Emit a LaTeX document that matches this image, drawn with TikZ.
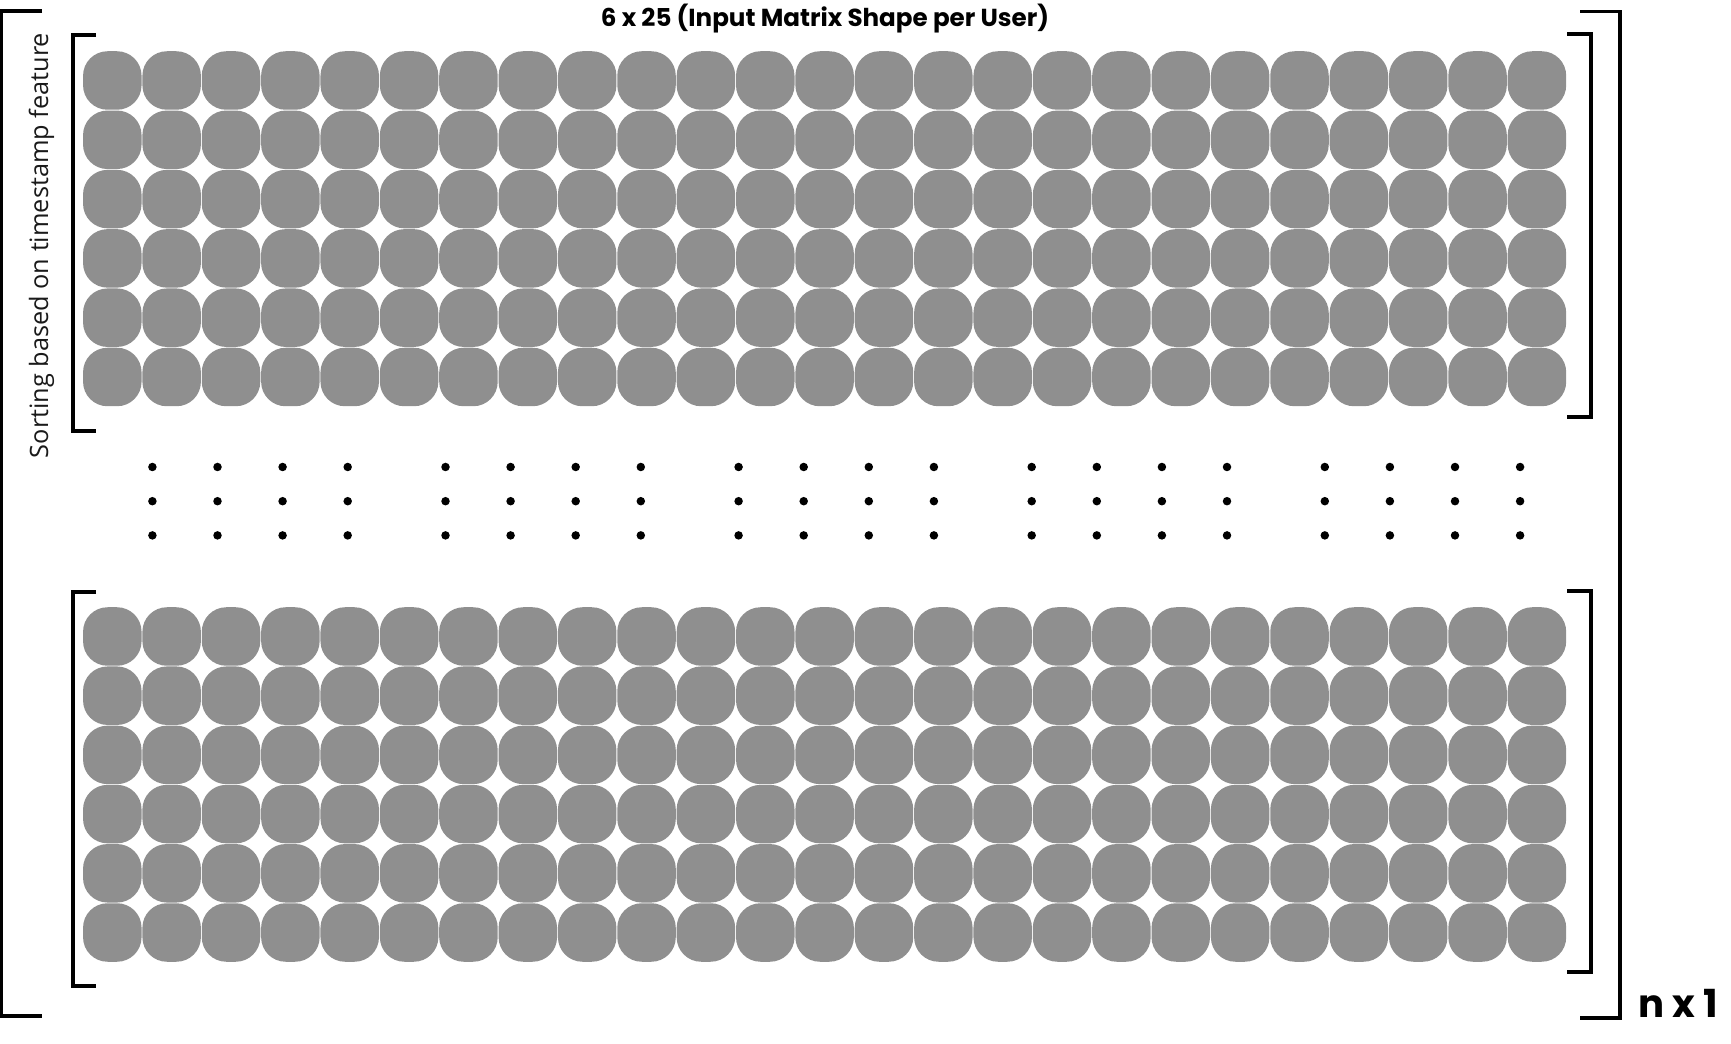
\documentclass[tikz,border=0pt]{standalone}
\usepackage{fontspec}
\setmainfont{Open Sans}
\newfontfamily\headfont{Poppins}
\usepackage{tikz}
\usetikzlibrary{positioning}
\usepackage{xcolor}
\definecolor{cellgray}{HTML}{8F8F8F}
\definecolor{ink}{HTML}{000000}
\definecolor{sidetext}{HTML}{1A1A1A}
\tikzset{
  cell/.style={fill=cellgray,rounded corners=4.9mm,inner sep=0pt,
               minimum size=11.7mm},
  bracket/.style={draw=ink,line width=0.62mm,line cap=butt,line join=miter},
  dotpt/.style={circle,fill=ink,inner sep=0pt,minimum size=1.7mm},
  headtext/.style={font=\headfont\bfseries\fontsize{14}{16}\selectfont,text=ink},
  sizetext/.style={font=\headfont\bfseries\fontsize{22}{26}\selectfont,text=ink},
  sidelabel/.style={font=\fontsize{14.4}{17}\selectfont,text=sidetext}
}

\begin{document}
\begin{tikzpicture}[x=0.2mm,y=-0.2mm]
  \useasboundingbox (0,0) rectangle (1731,1044);

  % Top user matrix
  \begin{scope}[yshift=0cm]
    \foreach \r in {0,...,5}
      \foreach \c in {0,...,24}
        \node[cell] (t-\r-\c) at (112.3+59.36*\c,80.5+59.3*\r) {};
    \draw[bracket] (96,35)--(73,35)--(73,431)--(96,431);
    \draw[bracket] (1567,34)--(1591,34)--(1591,417)--(1567,417);
  \end{scope}

  % Gap dots
  \foreach \g in {0,...,4}
    \foreach \k in {0,...,3}
      \foreach \d in {0,1,2}
        \node[dotpt] (d-\g-\k-\d) at (152.4+293.1*\g+65.1*\k,467+34.2*\d) {};

  % Bottom user matrix
  \begin{scope}
    \foreach \r in {0,...,5}
      \foreach \c in {0,...,24}
        \node[cell] (b-\r-\c) at (112.3+59.36*\c,636.5+59.2*\r) {};
    \draw[bracket] (96,592)--(73,592)--(73,986)--(96,986);
    \draw[bracket] (1567,591)--(1591,591)--(1591,972)--(1567,972);
  \end{scope}

  % Outer bracket
  \draw[bracket] (42,11)--(1.7,11)--(1.7,1016)--(42,1016);
  \draw[bracket] (1580,11.5)--(1620,11.5)--(1620,1018)--(1580,1018);

  \node[headtext,anchor=base] (title) at (825,27)
    {6 x 25 (Input Matrix Shape per User)};
  \node[sizetext,anchor=base west,inner sep=0pt] (nlabel) at (1638,1017)
    {n x 1};
  \node[sidelabel,rotate=90,anchor=base,inner sep=0pt] (sortlabel) at (48,245.5)
    {Sorting based on timestamp feature};
\end{tikzpicture}
\end{document}
